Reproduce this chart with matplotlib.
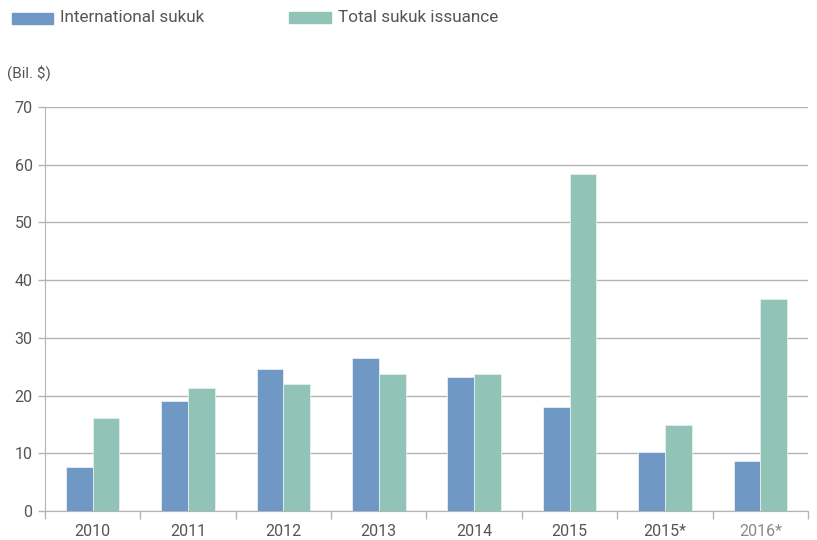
import matplotlib
matplotlib.use("Agg")
import matplotlib.pyplot as plt
import numpy as np

# ── Data ──────────────────────────────────────────────────────────
years = ['2010', '2011', '2012', '2013', '2014', '2015', '2015*', '2016*']
international = [7.6, 19.1, 24.6, 26.5, 23.2, 18.1, 10.2, 8.7]
total = [16.2, 21.3, 22.0, 23.8, 23.8, 58.4, 14.9, 36.8]
y_ticks = [0, 10, 20, 30, 40, 50, 60, 70]

# ── Colors ────────────────────────────────────────────────────────
blue = '#6f99c4'
green = '#91c4b7'
text_color = '#555555'
grid_color = '#b4b4b4'

plt.rcParams['font.family'] = ['Roboto', 'DejaVu Sans']

fig = plt.figure(figsize=(8.17, 5.40), dpi=100)
ax = fig.add_axes([45 / 817, 29 / 540, 763 / 817, 404 / 540])

x = np.arange(len(years))
w = 0.28
ax.bar(x - w / 2, international, width=w, color=blue, edgecolor='#e6eef6',
       linewidth=0.6, zorder=3)
ax.bar(x + w / 2, total, width=w, color=green, edgecolor='#e3f0ec',
       linewidth=0.6, zorder=3)

ax.set_xlim(-0.5, len(years) - 0.5)
ax.set_ylim(0, 70)
ax.set_yticks(y_ticks)
ax.grid(axis='y', color=grid_color, linewidth=1, zorder=0)

ax.set_xticks(x)
ax.set_xticklabels(years)
ax.set_xticks(np.arange(len(years) + 1) - 0.5, minor=True)
ax.tick_params(axis='x', which='major', length=0, pad=9, labelsize=11.5,
               labelcolor=text_color)
ax.tick_params(axis='x', which='minor', length=6, color=grid_color, width=1)
ax.tick_params(axis='y', length=5, color=grid_color, width=1, labelsize=11.5,
               labelcolor=text_color, pad=4)
ax.get_xticklabels()[-1].set_color('#8a8a8a')

for s in ['top', 'right']:
    ax.spines[s].set_visible(False)
ax.spines['left'].set_color(grid_color)
ax.spines['bottom'].set_color(grid_color)

# unit label
fig.text(7 / 817, 1 - 73 / 540, '(Bil. $)', fontsize=11, color=text_color,
         va='center', ha='left')

# legend drawn manually
fig.patches.append(plt.Rectangle((12 / 817, 1 - 24 / 540), 41 / 817, 11 / 540,
                                 transform=fig.transFigure, color=blue))
fig.text(60 / 817, 1 - 18 / 540, 'International sukuk', fontsize=12.3,
         color=text_color, va='center', ha='left')
fig.patches.append(plt.Rectangle((289 / 817, 1 - 23 / 540), 42 / 817, 11 / 540,
                                 transform=fig.transFigure, color=green))
fig.text(338 / 817, 1 - 18 / 540, 'Total sukuk issuance', fontsize=12.3,
         color=text_color, va='center', ha='left')

fig.savefig('out.png', dpi=100)
